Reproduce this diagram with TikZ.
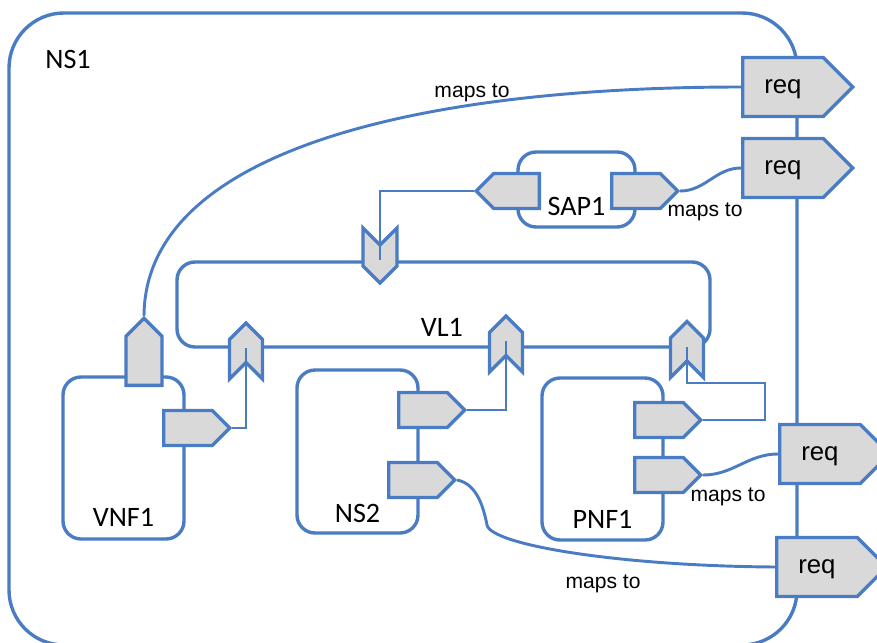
\documentclass[tikz,border=0pt]{standalone}
\usepackage{fontspec}
\setmainfont{Carlito}
\newfontfamily\arialfont{Liberation Sans}
\usetikzlibrary{calc}
\usetikzlibrary{shapes.symbols}
\definecolor{linkblue}{HTML}{4A7CC4}
\definecolor{portgray}{HTML}{D9D9D9}

\begin{document}
\begin{tikzpicture}[x=0.3mm, y=-0.3mm,
    comp_box/.style={draw=linkblue, line width=2.9pt, rounded corners=5.4mm, inner sep=0pt},
    port_base/.style={signal, draw=linkblue, fill=portgray, line width=2.9pt, inner sep=0pt, signal pointer angle=90},
    port_right/.style={port_base, signal to=east, minimum height=35*0.3mm, minimum width=66*0.3mm},
    port_left/.style={port_base, signal to=west, minimum height=35*0.3mm, minimum width=63*0.3mm},
    port_up/.style={port_base, signal to=north, minimum width=36*0.3mm, minimum height=49*0.3mm},
    vl_up/.style={port_base, signal to=north, signal from=south, minimum width=33*0.3mm, minimum height=23*0.3mm},
    vl_down/.style={port_base, signal to=south, signal from=north, minimum width=34*0.3mm, minimum height=21*0.3mm},
    req_port/.style={port_base, signal to=east, minimum height=59*0.3mm, minimum width=110*0.3mm,
        font=\arialfont\fontsize{22}{24}\selectfont, text depth=0pt},
    wire/.style={draw=linkblue, line width=2.5pt},
    name_text/.style={font=\fontsize{24}{28}\selectfont, inner sep=0pt},
    maps_text/.style={font=\arialfont\fontsize{18}{21}\selectfont, inner sep=0pt}
    ]

        \clip (0,0) rectangle (877,642);

        % outer network service
        \draw[draw=linkblue, line width=2.9pt, rounded corners=16.5mm] (9,13) rectangle (797,645);
        \node[name_text] (ns1_label) at (68,59) {NS1};

        % inner boxes
        \node[comp_box, minimum width=533*0.3mm, minimum height=85*0.3mm] (vl1_box) at (443.5,304.5) {};
        \node[comp_box, minimum width=117*0.3mm, minimum height=75*0.3mm] (sap1_box) at (576.5,189.5) {};
        \node[comp_box, minimum width=121*0.3mm, minimum height=162*0.3mm] (vnf1_box) at (123.5,458) {};
        \node[comp_box, minimum width=121*0.3mm, minimum height=163*0.3mm] (ns2_box) at (357.5,451.5) {};
        \node[comp_box, minimum width=121*0.3mm, minimum height=162*0.3mm] (pnf1_box) at (602.5,459) {};

        \node[name_text] (vl1_label) at (442,327) {VL1};
        \node[name_text] (sap1_label) at ($(sap1_box.south)+(0,-22)$) {SAP1};
        \node[name_text] (vnf1_label) at ($(vnf1_box.south)+(0,-23)$) {VNF1};
        \node[name_text] (ns2_label) at ($(ns2_box.south)+(0,-21)$) {NS2};
        \node[name_text] (pnf1_label) at ($(pnf1_box.south)+(0,-22)$) {PNF1};

        % connection points
        \node[vl_down] (vl1_top) at (380,255.5) {};
        \node[vl_up] (vl1_a) at (246,351) {};
        \node[vl_up] (vl1_b) at (506,344) {};
        \node[vl_up] (vl1_c) at (687,349.5) {};

        \node[port_left, anchor=east] (sap1_in) at (541,191) {};
        \node[port_right, anchor=west] (sap1_out) at (610,191) {};
        \node[port_up, anchor=south] (vnf1_up) at (144,387) {};
        \node[port_right, anchor=west] (vnf1_out) at (162,428) {};
        \node[port_right, anchor=west] (ns2_out_a) at (397,410) {};
        \node[port_right, anchor=west] (ns2_out_b) at (387,480) {};
        \node[port_right, anchor=west] (pnf1_out_a) at (633,420) {};
        \node[port_right, anchor=west] (pnf1_out_b) at (633,475) {};
        \coordinate (pnf1_turn) at (765,383);

        % links into the notches
        \draw[wire] (sap1_in.west) -| ($(vl1_top.north)+(0,17)$);
        \draw[wire] (vnf1_out.east) -| ($(vl1_a.south)+(0,-16.5)$);
        \draw[wire] (ns2_out_a.east) -| ($(vl1_b.south)+(0,-16.5)$);
        \draw[wire] (pnf1_out_a.east) -| (pnf1_turn) -| ($(vl1_c.south)+(0,-16.5)$);

        % requirements
        \node[req_port, anchor=west] (req_a) at (741,87) {req};
        \node[req_port, anchor=west] (req_b) at (741,168) {req};
        \node[req_port, anchor=west] (req_c) at (778,454) {req};
        \node[req_port, anchor=west] (req_d) at (775,567) {req};

        \draw[wire] (vnf1_up.north) .. controls (145,150) and (420,87) .. (req_a.west);
        \draw[wire] (sap1_out.east) to[out=0, in=180] (req_b.west);
        \draw[wire] (pnf1_out_b.east) to[out=0, in=180] (req_c.west);
        \draw[wire] (ns2_out_b.east) .. controls (478,484) and (484,510) .. (487,525)
            .. controls (491,545) and (620,566) .. (req_d.west);

        \node[maps_text] (maps_a) at (472,93) {maps to};
        \node[maps_text] (maps_b) at (705,212) {maps to};
        \node[maps_text] (maps_c) at (728,497) {maps to};
        \node[maps_text] (maps_d) at (603,584) {maps to};

\end{tikzpicture}
\end{document}
